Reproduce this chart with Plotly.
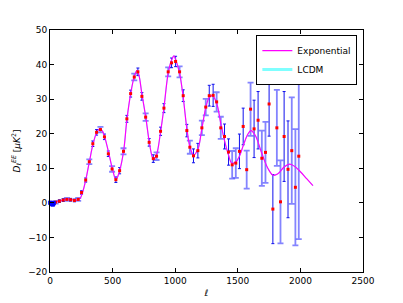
"""
EE power spectrum: binned data points with error bars, plus the
Exponential and LCDM model curves.
"""

import plotly.graph_objects as go

# --- model curves ---
ELL_CURVE = [
    2, 30, 60, 100, 140, 180, 215, 240, 260, 285, 315, 345, 375, 400, 425,
    450, 475, 500, 527, 556, 588, 614, 644, 673, 695, 710, 734, 764, 792,
    815, 828, 850, 883, 910, 944, 971, 990, 1003, 1035, 1064, 1093, 1117,
    1146, 1181, 1213, 1244, 1272, 1298, 1331, 1364, 1394, 1426, 1452, 1484,
    1513, 1543, 1575, 1605, 1640, 1690, 1740, 1782, 1820, 1870, 1915, 1960,
    2000, 2050, 2100,
]
DL_EXPONENTIAL = [
    0.0, 0.1, 0.4, 0.8, 1.1, 0.9, 0.8, 1.3, 3.0, 6.5, 12.0, 17.2, 20.5, 21.5,
    20.3, 17.3, 13.5, 9.6, 6.7, 9.3, 15.0, 24.0, 31.5, 36.5, 38.3, 37.0,
    31.5, 25.0, 17.8, 13.5, 12.7, 13.8, 20.5, 27.5, 37.5, 41.3, 42.5, 41.5,
    37.5, 30.5, 21.5, 16.3, 13.8, 15.5, 21.5, 27.5, 30.5, 31.0, 28.8, 23.0,
    18.0, 13.8, 11.5, 11.8, 13.5, 16.5, 19.5, 20.9, 19.5, 14.5, 10.0, 8.0,
    8.4, 10.4, 11.2, 10.4, 9.0, 7.0, 5.0,
]
DL_LCDM = list(DL_EXPONENTIAL)

# --- low-ell points ---
ELL_LOW = [2, 5, 8, 11, 14, 17, 20, 23, 26, 29]
DL_LOW = [0.05, 0.0, -0.1, -0.3, -0.2, -0.4, -0.3, -0.5, -0.2, -0.1]
ERR_LOW = [0.3, 0.3, 0.3, 0.3, 0.3, 0.3, 0.3, 0.3, 0.3, 0.3]

# --- binned points, set A (dark error bars) ---
ELL_A = [
    75, 105, 165, 195, 252, 285, 342, 372, 435, 466, 526, 556, 614, 644,
    702, 734, 792, 825, 883, 910, 971, 1003, 1064, 1093, 1146, 1181, 1272,
    1303, 1394, 1426, 1513, 1543, 1630, 1662, 1750, 1780, 1870, 1901,
]
DL_A = [
    0.5, 0.8, 0.9, 0.7, 3.0, 6.6, 17.1, 20.4, 19.1, 14.2, 6.7, 9.3, 24.3,
    31.6, 37.9, 30.8, 17.5, 12.8, 20.7, 27.4, 40.5, 40.9, 31.0, 20.9, 13.6,
    15.1, 31.0, 31.1, 19.2, 14.7, 14.9, 22.1, 21.4, 23.9, 28.6, -1.8, 19.2,
    9.7,
]
ERR_A = [
    0.4, 0.4, 0.4, 0.4, 0.5, 0.6, 0.8, 0.8, 0.8, 0.8, 0.8, 0.9, 1.0, 1.0,
    1.1, 1.1, 1.1, 1.1, 1.2, 1.3, 1.4, 1.5, 1.7, 1.8, 2.0, 2.1, 3.0, 3.2,
    3.6, 3.8, 5.0, 5.3, 8.3, 8.3, 9.3, 10.0, 13.0, 14.0,
]

# --- binned points, set B (light error bars with caps) ---
ELL_B = [
    45, 135, 225, 314, 403, 496, 587, 673, 764, 851, 944, 1035, 1117, 1213,
    1244, 1331, 1364, 1455, 1484, 1571, 1602, 1692, 1721, 1812, 1841, 1931,
    1960, 1987,
]
DL_B = [
    0.2, 1.0, 1.0, 11.9, 21.2, 9.8, 14.9, 36.4, 24.8, 13.5, 37.9, 37.9, 16.1,
    21.7, 27.7, 29.2, 21.7, 11.0, 11.5, 9.6, 27.1, 12.9, 14.6, 21.7, 0.3,
    15.1, 4.5, 13.5,
]
ERR_B = [
    0.4, 0.4, 0.4, 0.7, 0.8, 0.8, 0.9, 1.0, 1.1, 1.1, 1.3, 1.6, 1.9, 2.1,
    2.4, 2.8, 3.2, 4.0, 4.3, 5.5, 7.7, 8.0, 8.8, 11.0, 12.0, 15.4, 16.8,
    24.0,
]

FONT = "DejaVu Sans"
PAGE_OFFSET = 8  # default body margin of the html page


def build_figure() -> go.Figure:
    fig = go.Figure()

    # light data set
    fig.add_trace(go.Scatter(
        x=ELL_B, y=DL_B, mode="markers", showlegend=False,
        marker=dict(color="rgba(0,0,0,0)", size=2),
        error_y=dict(type="data", array=ERR_B, color="rgba(80,80,255,0.7)",
                     thickness=1.8, width=3),
    ))
    # dark data set
    fig.add_trace(go.Scatter(
        x=ELL_A, y=DL_A, mode="markers", showlegend=False,
        marker=dict(color="rgba(0,0,0,0)", size=2),
        error_y=dict(type="data", array=ERR_A, color="#1010ee",
                     thickness=1, width=1.5),
    ))

    # model curves (LCDM underneath, Exponential on top)
    fig.add_trace(go.Scatter(
        x=ELL_CURVE, y=DL_LCDM, mode="lines", name="LCDM", showlegend=False,
        line=dict(color="rgba(0,255,255,0.5)", width=1, shape="spline"),
    ))
    fig.add_trace(go.Scatter(
        x=ELL_CURVE, y=DL_EXPONENTIAL, mode="lines", name="Exponential",
        line=dict(color="#ff00ff", width=1.2, shape="spline"),
    ))
    # legend entry for LCDM drawn with the thicker line of the reference
    fig.add_trace(go.Scatter(
        x=[None], y=[None], mode="lines", name="LCDM",
        line=dict(color="rgba(0,255,255,0.5)", width=3),
    ))

    # red data markers on top of everything
    fig.add_trace(go.Scatter(
        x=ELL_A + ELL_B, y=DL_A + DL_B, mode="markers", showlegend=False,
        marker=dict(color="red", size=3, symbol="square"),
    ))
    # low-ell points
    fig.add_trace(go.Scatter(
        x=ELL_LOW, y=DL_LOW, mode="markers", showlegend=False,
        cliponaxis=False,
        marker=dict(color="#0000ff", size=4, symbol="square"),
        error_y=dict(type="data", array=ERR_LOW, color="#0000ff",
                     thickness=1, width=2),
    ))

    axis_style = dict(
        showline=True, linecolor="black", linewidth=1, mirror="ticks",
        ticks="inside", ticklen=4, tickcolor="black", showgrid=False,
        zeroline=False, automargin=False,
        tickfont=dict(family=FONT, size=9, color="black"),
    )
    fig.update_xaxes(
        range=[0, 2500], dtick=500, tick0=0,
        title=dict(text="<i>ℓ</i>", font=dict(family=FONT, size=9), standoff=4),
        **axis_style,
    )
    fig.update_yaxes(
        range=[-20, 50], dtick=10, tick0=0,
        title=dict(text="<i>D<sub>ℓ</sub><sup>EE</sup></i> [<i>μK</i><sup>2</sup>]",
                   font=dict(family=FONT, size=9), standoff=6),
        **axis_style,
    )

    fig.update_layout(
        width=403 - PAGE_OFFSET, height=303 - PAGE_OFFSET,
        margin=dict(l=50 - PAGE_OFFSET, r=40, t=30 - PAGE_OFFSET, b=31),
        paper_bgcolor="white", plot_bgcolor="white",
        font=dict(family=FONT, size=9, color="black"),
        legend=dict(
            x=0.982, y=0.979, xanchor="right", yanchor="top",
            bgcolor="white", bordercolor="black", borderwidth=1,
            font=dict(family=FONT, size=9), traceorder="normal",
            itemwidth=30, tracegroupgap=0,
        ),
    )
    return fig


def main():
    fig = build_figure()
    fig.write_html("out.html")


if __name__ == "__main__":
    main()
